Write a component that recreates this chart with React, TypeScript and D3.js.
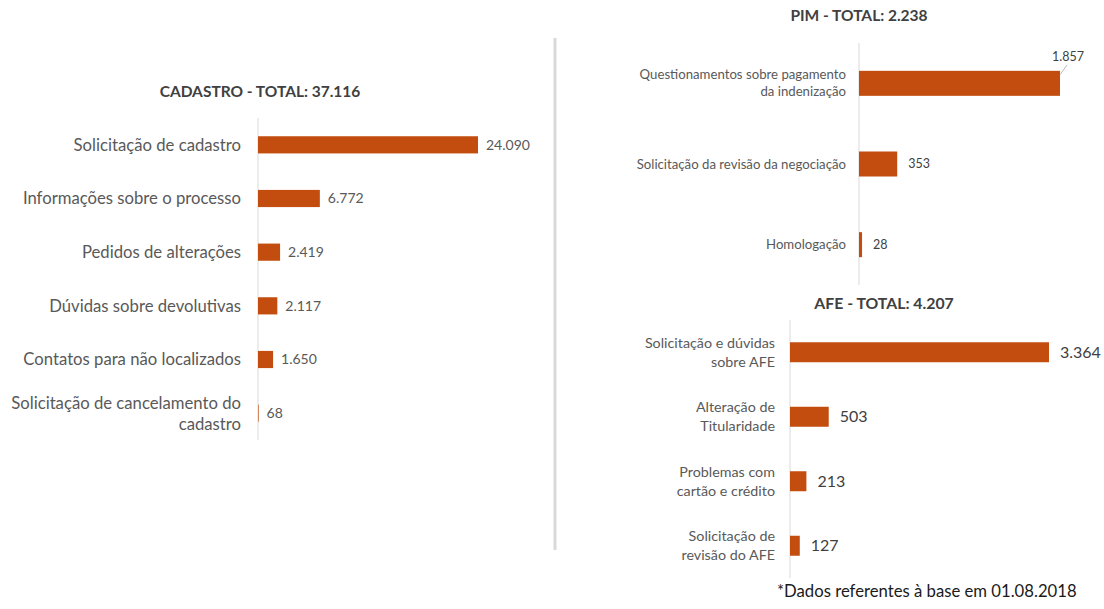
import React from "react";
import * as d3 from "d3";

// CADASTRO
const cadastroCategories = [
  "Solicitação de cadastro",
  "Informações sobre o processo",
  "Pedidos de alterações",
  "Dúvidas sobre devolutivas",
  "Contatos para não localizados",
  "Solicitação de cancelamento do\ncadastro",
];
const cadastroValues = [24090, 6772, 2419, 2117, 1650, 68];

// PIM
const pimCategories = [
  "Questionamentos sobre pagamento\nda indenização",
  "Solicitação da revisão da negociação",
  "Homologação",
];
const pimValues = [1857, 353, 28];

// AFE
const afeCategories = [
  "Solicitação e dúvidas\nsobre AFE",
  "Alteração de\nTitularidade",
  "Problemas com\ncartão e crédito",
  "Solicitação de\nrevisão do AFE",
];
const afeValues = [3364, 503, 213, 127];

const footnote = "*Dados referentes à base em 01.08.2018";

const BAR = "#C24D0E";
const FONT = "Lato, 'Open Sans', sans-serif";
const ptBR = d3.formatLocale({ decimal: ",", thousands: ".", grouping: [3], currency: ["R$", ""] });
const fmt = ptBR.format(",d");

type PanelProps = {
  name: string;
  categories: string[];
  values: number[];
  titleX: number;
  titleY: number;
  titleSize: number;
  axisX: number;
  y0: number;
  y1: number;
  width: number;
  barRatio: number;
  labelSize: number;
  lineHeight: number;
  labelGap: number;
  valueSize: number;
  valueGap: number;
  valueColor: string;
  calloutFirst?: boolean;
};

function Panel(p: PanelProps) {
  const x = d3.scaleLinear().domain([0, d3.max(p.values) as number]).range([p.axisX, p.axisX + p.width]);
  const y = d3.scaleBand<string>().domain(p.categories).range([p.y0, p.y1]);
  const bh = y.step() * p.barRatio;
  const total = d3.sum(p.values);
  return (
    <g>
      <text
        x={p.titleX}
        y={p.titleY}
        textAnchor="middle"
        fontFamily={FONT}
        fontWeight="bold"
        fontSize={p.titleSize}
        fill="#404040"
      >
        {`${p.name} - TOTAL: ${fmt(total)}`}
      </text>
      <line x1={p.axisX} x2={p.axisX} y1={p.y0} y2={p.y1} stroke="#d9d9d9" strokeWidth={1} />
      {p.categories.map((c, i) => {
        const cy = (y(c) as number) + y.bandwidth() / 2;
        const lines = c.split("\n");
        const v = p.values[i];
        const callout = p.calloutFirst && i === 0;
        return (
          <g key={c}>
            <rect x={p.axisX} y={cy - bh / 2} width={x(v) - p.axisX} height={bh} fill={BAR} />
            <text
              textAnchor="end"
              fontFamily={FONT}
              fontSize={p.labelSize}
              fill="#595959"
            >
              {lines.map((l, k) => (
                <tspan
                  key={k}
                  x={p.axisX - p.labelGap}
                  y={cy + (k - (lines.length - 1) / 2) * p.lineHeight}
                  dy="0.35em"
                >
                  {l}
                </tspan>
              ))}
            </text>
            {callout ? (
              <g>
                <line
                  x1={x(v)}
                  y1={cy - bh / 2 + 4}
                  x2={x(v) + 7}
                  y2={cy - bh / 2 - 6}
                  stroke="#a6a6a6"
                  strokeWidth={0.8}
                />
                <text
                  x={x(v) + 24}
                  y={cy - bh / 2 - 14}
                  dy="0.35em"
                  textAnchor="end"
                  fontFamily={FONT}
                  fontSize={p.valueSize}
                  fill={p.valueColor}
                >
                  {fmt(v)}
                </text>
              </g>
            ) : (
              <text
                x={x(v) + p.valueGap}
                y={cy}
                dy="0.35em"
                fontFamily={FONT}
                fontSize={p.valueSize}
                fill={p.valueColor}
              >
                {fmt(v)}
              </text>
            )}
          </g>
        );
      })}
    </g>
  );
}

export default function App() {
  return (
    <svg
      width={1104}
      height={609}
      style={{ position: "absolute", left: 0, top: 0, background: "#fff" }}
    >
      <rect width={1104} height={609} fill="#fff" />
      <Panel
        name="CADASTRO"
        categories={cadastroCategories}
        values={cadastroValues}
        titleX={260}
        titleY={97}
        titleSize={15.5}
        axisX={258}
        y0={118}
        y1={440}
        width={220}
        barRatio={0.32}
        labelSize={16.7}
        lineHeight={21}
        labelGap={17}
        valueSize={14}
        valueGap={8}
        valueColor="#595959"
      />
      <line x1={555} x2={555} y1={38} y2={550} stroke="#d9d9d9" strokeWidth={3} />
      <Panel
        name="PIM"
        categories={pimCategories}
        values={pimValues}
        titleX={859}
        titleY={21}
        titleSize={15.5}
        axisX={859}
        y0={43}
        y1={285}
        width={201}
        barRatio={0.31}
        labelSize={13.2}
        lineHeight={17}
        labelGap={13}
        valueSize={12.5}
        valueGap={11}
        valueColor="#404040"
        calloutFirst
      />
      <Panel
        name="AFE"
        categories={afeCategories}
        values={afeValues}
        titleX={884}
        titleY={309}
        titleSize={15.8}
        axisX={790}
        y0={320}
        y1={578}
        width={259}
        barRatio={0.31}
        labelSize={14.3}
        lineHeight={19}
        labelGap={15}
        valueSize={16}
        valueGap={11}
        valueColor="#404040"
      />
      <text x={777} y={597} fontFamily={FONT} fontSize={16.7} fill="#1a1a1a">
        {footnote}
      </text>
    </svg>
  );
}
